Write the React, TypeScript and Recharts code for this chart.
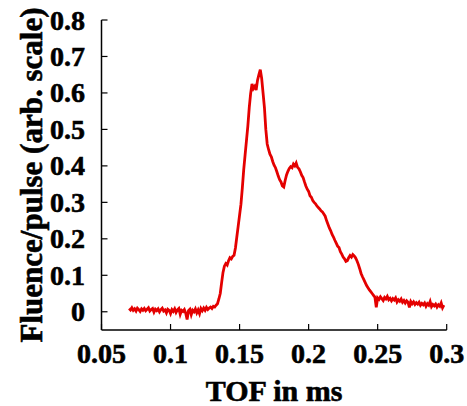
import { LineChart, Line, XAxis, YAxis, Label } from "recharts";

// sampling grid of the TOF trace (ms)
const TOF_START = 0.07;
const TOF_STEP = 0.001;

// fluence per pulse, one row per 0.01 ms
const FLUENCE = [
  0.009, 0.005, 0.011, 0.004, 0.008, 0.002, 0.01, 0.006, 0.001, 0.008,
  0.004, 0.009, 0.003, 0.007, 0.011, 0.002, 0.006, 0.009, -0.001, 0.007,
  0.003, 0.008, 0.0, 0.006, 0.01, 0.002, 0.005, -0.003, 0.007, 0.004,
  -0.005, 0.006, 0.001, 0.008, -0.002, 0.005, 0.009, -0.007, 0.004, 0.001,
  0.006, -0.004, -0.021, 0.003, 0.007, -0.008, 0.004, 0.0, 0.008, -0.003,
  0.005, -0.005, 0.009, 0.003, 0.01, 0.004, 0.012, 0.006, 0.01, 0.013,
  0.009, 0.015, 0.013, 0.018, 0.022, 0.035, 0.05, 0.08, 0.108, 0.125,
  0.132, 0.128, 0.14, 0.148, 0.145, 0.152, 0.155, 0.175, 0.205, 0.235,
  0.265, 0.295, 0.34, 0.39, 0.43, 0.47, 0.51, 0.56, 0.598, 0.625,
  0.612, 0.618, 0.608, 0.635, 0.65, 0.664, 0.64, 0.6, 0.56, 0.5,
  0.46, 0.445, 0.432, 0.425, 0.412, 0.402, 0.395, 0.384, 0.372, 0.362,
  0.356, 0.345, 0.342, 0.36, 0.375, 0.385, 0.393, 0.398, 0.395, 0.405,
  0.4, 0.408, 0.396, 0.392, 0.384, 0.374, 0.368, 0.356, 0.345, 0.336,
  0.33, 0.318, 0.314, 0.305, 0.3, 0.296, 0.29, 0.286, 0.282, 0.277,
  0.274, 0.268, 0.262, 0.25, 0.24, 0.23, 0.222, 0.212, 0.205, 0.196,
  0.188, 0.18, 0.176, 0.165, 0.158, 0.15, 0.145, 0.138, 0.14, 0.148,
  0.154, 0.15, 0.157, 0.153, 0.148, 0.14, 0.13, 0.118, 0.105, 0.096,
  0.088, 0.08, 0.072, 0.066, 0.06, 0.055, 0.05, 0.045, 0.04, 0.012,
  0.038, 0.034, 0.041, 0.036, 0.031, 0.039, 0.035, 0.042, 0.033, 0.037,
  0.03, 0.036, 0.032, 0.038, 0.027, 0.033, 0.029, 0.035, 0.026, 0.031,
  0.024, 0.03, 0.026, 0.012, 0.028, 0.022, 0.027, 0.02, 0.025, 0.021,
  0.026, 0.018, 0.023, 0.019, 0.024, 0.015, 0.022, 0.018, 0.028, 0.014,
  0.02, 0.016, 0.021, 0.013, 0.019, 0.015, 0.024, 0.011, 0.018,
];

const X_TICKS = [0.05, 0.1, 0.15, 0.2, 0.25, 0.3];
const Y_TICKS = [0, 0.1, 0.2, 0.3, 0.4, 0.5, 0.6, 0.7, 0.8];
const X_TITLE = "TOF in ms";
const Y_TITLE = "Fluence/pulse (arb. scale)";

const FONT = "Liberation Serif, Times New Roman, Tinos, DejaVu Serif, serif";
const RED = "#e40000";
// slight outline so the bold serif reads as heavy as the scanned figure
const textStyle = { fontFamily: FONT, fontWeight: 700, stroke: "#000", strokeWidth: 0.6 };

const data = FLUENCE.map((v, i) => ({
  tof: +(TOF_START + i * TOF_STEP).toFixed(3),
  fluence: v,
}));

function XTick(props: any) {
  const { x, y, payload } = props;
  return (
    <text x={x} y={y + 39} textAnchor="middle" style={textStyle} fontSize={28} fill="#000">
      {String(payload.value)}
    </text>
  );
}

function YTick(props: any) {
  const { x, y, payload } = props;
  return (
    <text x={x - 22.5} y={y + 9.5} textAnchor="end" style={textStyle} fontSize={28} fill="#000">
      {String(payload.value)}
    </text>
  );
}

export default function App() {
  return (
    <div style={{ position: "absolute", left: 0, top: 0, width: 467, height: 406, background: "#fff" }}>
      <LineChart width={467} height={406} data={data} margin={{ top: 20, right: 20.3, bottom: 0, left: 0 }}>
        <XAxis
          dataKey="tof"
          type="number"
          domain={[0.05, 0.3]}
          ticks={X_TICKS}
          height={76}
          tickSize={-6}
          tickMargin={0}
          tick={XTick}
          axisLine={{ stroke: "#000", strokeWidth: 1.5 }}
          tickLine={{ stroke: "#000", strokeWidth: 1.2 }}
          allowDataOverflow
        >
          <Label
            content={(p: any) => {
              const vb = p.viewBox;
              return (
                <text x={vb.x + vb.width / 2} y={vb.y + 71} textAnchor="middle" style={textStyle} fontSize={30} fill="#000">
                  {X_TITLE}
                </text>
              );
            }}
          />
        </XAxis>
        <YAxis
          type="number"
          domain={[-0.05, 0.8]}
          ticks={Y_TICKS}
          width={101.5}
          tickSize={-6}
          tickMargin={0}
          tick={YTick}
          axisLine={{ stroke: "#000", strokeWidth: 1.5 }}
          tickLine={{ stroke: "#000", strokeWidth: 1.2 }}
          allowDataOverflow
        >
          <Label
            content={(p: any) => {
              const vb = p.viewBox;
              const cx = vb.x + 42;
              const cy = vb.y + vb.height / 2;
              return (
                <text x={cx} y={cy} transform={`rotate(-90, ${cx}, ${cy})`} textAnchor="middle" style={textStyle} fontSize={31} fill="#000">
                  {Y_TITLE}
                </text>
              );
            }}
          />
        </YAxis>
        <Line
          type="linear"
          dataKey="fluence"
          stroke={RED}
          strokeWidth={2.8}
          dot={false}
          isAnimationActive={false}
        />
      </LineChart>
    </div>
  );
}
